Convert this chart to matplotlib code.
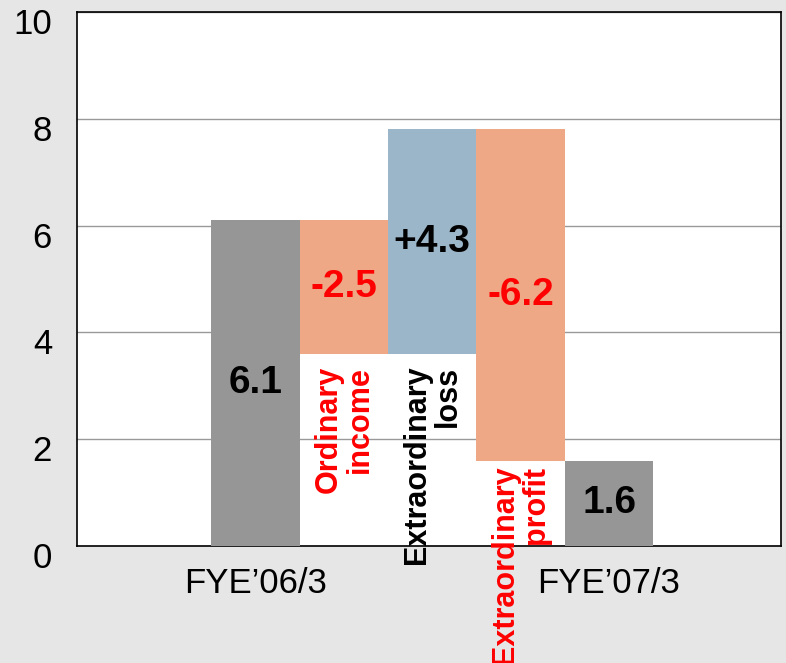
import matplotlib
matplotlib.use("Agg")
import matplotlib.pyplot as plt
import matplotlib.transforms as mtransforms

# Data
categories = ["FYE’06/3", "Ordinary\nincome", "Extraordinary\nloss", "Extraordinary\nprofit", "FYE’07/3"]
bar_bottom = [0.0, 3.6, 3.6, 1.6, 0.0]
bar_top = [6.1, 6.1, 7.8, 7.8, 1.6]
value_labels = ["6.1", "-2.5", "+4.3", "-6.2", "1.6"]
xtick_labels = ["FYE’06/3", "FYE’07/3"]
yticks = [0, 2, 4, 6, 8, 10]

# Styles
bar_colors = ["#969696", "#EEA886", "#9CB6C9", "#EEA886", "#969696"]
value_colors = ["black", "red", "black", "red", "black"]
cat_colors = [None, "red", "black", "red", None]
cat_gap_px = [0, 12, 12, 5, 0]

plt.rcParams['font.family'] = ['Liberation Sans', 'DejaVu Sans']

fig = plt.figure(figsize=(7.86, 6.63), dpi=100)
fig.patch.set_facecolor("#E6E6E6")
ax = fig.add_axes([77/786, 1 - 546/663, (781 - 77)/786, (546 - 12)/663])
ax.set_facecolor("white")

x = [2, 3, 4, 5, 6]
heights = [t - b for t, b in zip(bar_top, bar_bottom)]
ax.bar(x, heights, bottom=bar_bottom, width=1.0, color=bar_colors, zorder=3, linewidth=0)

ax.set_xlim(-0.02, 7.946)
ax.set_ylim(0, 10)
ax.set_yticks(yticks)
ax.set_yticklabels([str(v) for v in yticks], fontsize=25)
ax.set_xticks([x[0], x[-1]])
ax.set_xticklabels(xtick_labels, fontsize=25)
ax.tick_params(axis='both', length=0)
ax.tick_params(axis='y', pad=18)
ax.tick_params(axis='x', pad=15)

# y tick labels sit slightly below their gridlines in the reference
offset = mtransforms.ScaledTranslation(0, -9 / 100, fig.dpi_scale_trans)
for lbl in ax.get_yticklabels():
    lbl.set_transform(lbl.get_transform() + offset)

ax.grid(axis='y', color="#999999", linewidth=1.0, zorder=1)
for s in ax.spines.values():
    s.set_color("black")
    s.set_linewidth(1.2)

for xi, b, t, lab, c in zip(x, bar_bottom, bar_top, value_labels, value_colors):
    ax.text(xi, (b + t) / 2, lab, ha='center', va='center', fontsize=28,
            fontweight='bold', color=c, zorder=4)

for xi, b, cat, c, gap in zip(x, bar_bottom, categories, cat_colors, cat_gap_px):
    if c is None:
        continue
    ax.annotate(cat, xy=(xi, b), xytext=(0, -gap * 72 / 100), textcoords='offset points',
                ha='center', va='top', rotation=90, multialignment='right',
                fontsize=22, fontweight='bold', color=c, linespacing=1.05,
                annotation_clip=False, zorder=5)

fig.savefig("out.png", dpi=100, facecolor=fig.get_facecolor())
